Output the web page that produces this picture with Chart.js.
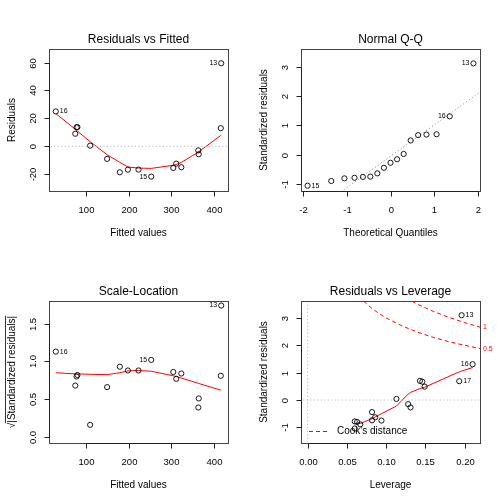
<!DOCTYPE html>
<html>
<head>
<meta charset="utf-8">
<script src="https://cdn.jsdelivr.net/npm/chart.js@4.4.0/dist/chart.umd.min.js"></script>
<style>
  html, body { margin: 0; padding: 0; background: #fff; }
  #wrap { position: relative; width: 504px; height: 504px; }
  .cell { position: absolute; width: 252px; height: 252px; }
</style>
</head>
<body>
<div id="wrap">
  <div class="cell" style="left:0;top:0"><canvas id="c1" width="252" height="252"></canvas></div>
  <div class="cell" style="left:252px;top:0"><canvas id="c2" width="252" height="252"></canvas></div>
  <div class="cell" style="left:0;top:252px"><canvas id="c3" width="252" height="252"></canvas></div>
  <div class="cell" style="left:252px;top:252px"><canvas id="c4" width="252" height="252"></canvas></div>
</div>
<script>
// Observations (same order in every panel)
var fitted    = [28, 74, 77, 79, 109, 149, 179, 198, 223, 253, 305, 312, 324, 364, 365, 418, 417];
var residuals = [25, 9, 13.6, 13.8, 0.5, -9, -18.6, -16.7, -16.7, -21.7, -15.5, -12.4, -15, -2.9, -5.7, 59.5, 13];
var sqrtStdRes = [1.13, 0.68, 0.80, 0.82, 0.16, 0.66, 0.93, 0.88, 0.88, 1.02, 0.86, 0.77, 0.84, 0.39, 0.51, 1.74, 0.81];

// Smoother (red) through sorted fitted values
var smoothX  = [28, 74, 77, 79, 109, 149, 179, 198, 223, 253, 305, 312, 324, 364, 365, 417, 418];
var smooth1Y = [23.5, 12.2, 11.5, 10.9, 3.3, -6, -11.5, -14.8, -15.6, -15.8, -13.6, -13, -11.5, -4.2, -3.9, 7.8, 8];
var smooth3Y = [0.85, 0.835, 0.835, 0.835, 0.83, 0.825, 0.85, 0.875, 0.88, 0.87, 0.81, 0.80, 0.78, 0.71, 0.71, 0.62, 0.62];

// Normal Q-Q
var theoQ  = [-1.89, -1.35, -1.05, -0.82, -0.63, -0.46, -0.30, -0.15, 0, 0.15, 0.30, 0.46, 0.63, 0.82, 1.05, 1.35, 1.89];
var stdRes = [-1.05, -0.89, -0.80, -0.78, -0.75, -0.74, -0.63, -0.44, -0.27, -0.15, 0.03, 0.49, 0.67, 0.69, 0.70, 1.31, 3.11];
var qqLineX = [-2.1, 2.1];
var qqLineY = [-2.30, 2.20];

// Residuals vs Leverage
var leverage = [0.196, 0.210, 0.193, 0.143, 0.146, 0.149, 0.113, 0.128, 0.131, 0.082, 0.086, 0.082, 0.094, 0.060, 0.063, 0.060, 0.067];
var levRes   = [3.10, 1.31, 0.69, 0.70, 0.67, 0.49, 0.04, -0.15, -0.27, -0.44, -0.63, -0.74, -0.75, -0.78, -0.80, -1.04, -0.89];
var smooth4X = [0.060, 0.067, 0.082, 0.094, 0.113, 0.128, 0.131, 0.143, 0.149, 0.193, 0.196, 0.210];
var smooth4Y = [-0.85, -0.86, -0.68, -0.50, -0.22, 0.22, 0.28, 0.42, 0.47, 1.03, 1.06, 1.19];
var cook05X = [0.065, 0.07, 0.08, 0.09, 0.10, 0.12, 0.14, 0.16, 0.18, 0.20, 0.22];
var cook05Y = [3.79, 3.65, 3.39, 3.18, 3.00, 2.71, 2.48, 2.29, 2.13, 2.00, 1.88];
var cook1X  = [0.125, 0.13, 0.14, 0.15, 0.16, 0.18, 0.20, 0.22];
var cook1Y  = [3.74, 3.66, 3.50, 3.37, 3.24, 3.02, 2.83, 2.66];

// Tick labels
var fitTicks = [100, 200, 300, 400];
var resTicks = [-20, 0, 20, 40, 60];
var qqXTicks = [-2, -1, 0, 1, 2];
var qqYTicks = [-1, 0, 1, 2, 3];
var slTicks  = [0, 0.5, 1.0, 1.5];
var slTickLabels = ['0.0', '0.5', '1.0', '1.5'];
var levTicks = [0, 0.05, 0.10, 0.15, 0.20];
var levTickLabels = ['0.00', '0.05', '0.10', '0.15', '0.20'];
var levYTicks = [-1, 0, 1, 2, 3];

var FONT = '"Liberation Sans", Arial, Helvetica, sans-serif';
var RED = '#ff0000';

function zip(xs, ys) {
  return xs.map(function (x, i) { return { x: x, y: ys[i] }; });
}

function points(data) {
  return {
    data: data, pointRadius: 2.6, pointBorderWidth: 0.9,
    pointBorderColor: '#000', pointBackgroundColor: 'rgba(0,0,0,0)', showLine: false
  };
}

function line(data, color, dash, width) {
  return {
    data: data, showLine: true, pointRadius: 0, borderColor: color,
    borderWidth: width || 1, borderDash: dash || [], fill: false
  };
}

// R-style frame, axes, titles and point labels
var rFrame = {
  id: 'rFrame',
  afterDraw: function (chart, args, o) {
    var ctx = chart.ctx, a = chart.chartArea;
    var xs = chart.scales.x, ys = chart.scales.y;
    ctx.save();
    ctx.strokeStyle = '#444';
    ctx.lineWidth = 1;
    ctx.strokeRect(a.left + 0.5, a.top + 0.5, a.right - a.left, a.bottom - a.top);

    ctx.fillStyle = '#000';
    ctx.strokeStyle = '#222';
    ctx.font = '9.5px ' + FONT;
    ctx.textAlign = 'center';
    ctx.textBaseline = 'middle';

    // x axis
    var xp = o.xTicks.map(function (v) { return Math.round(xs.getPixelForValue(v)) + 0.5; });
    var by = a.bottom + 0.5;
    ctx.beginPath();
    ctx.moveTo(xp[0], by); ctx.lineTo(xp[xp.length - 1], by);
    xp.forEach(function (p) { ctx.moveTo(p, by); ctx.lineTo(p, by + 5); });
    ctx.stroke();
    xp.forEach(function (p, i) {
      ctx.fillText(o.xLabels ? o.xLabels[i] : String(o.xTicks[i]), p, a.bottom + 19);
    });

    // y axis
    var yp = o.yTicks.map(function (v) { return Math.round(ys.getPixelForValue(v)) + 0.5; });
    var lx = a.left + 0.5;
    ctx.beginPath();
    ctx.moveTo(lx, yp[0]); ctx.lineTo(lx, yp[yp.length - 1]);
    yp.forEach(function (p) { ctx.moveTo(lx, p); ctx.lineTo(lx - 5, p); });
    ctx.stroke();
    yp.forEach(function (p, i) {
      ctx.save();
      ctx.translate(a.left - 16, p);
      ctx.rotate(-Math.PI / 2);
      ctx.fillText(o.yLabels ? o.yLabels[i] : String(o.yTicks[i]), 0, 0);
      ctx.restore();
    });

    // titles
    var cx = (a.left + a.right) / 2, cy = (a.top + a.bottom) / 2;
    ctx.font = '12px ' + FONT;
    ctx.fillText(o.title, cx, 40);
    ctx.font = '10px ' + FONT;
    ctx.fillText(o.xTitle, cx, 233);
    ctx.save();
    ctx.translate(12, cy);
    ctx.rotate(-Math.PI / 2);
    if (o.sqrtTitle) {
      var w1 = ctx.measureText('\u221A').width;
      var w2 = ctx.measureText(o.yTitle).width;
      var x0 = -(w1 + w2) / 2;
      ctx.textAlign = 'left';
      ctx.fillText('\u221A', x0, 0);
      ctx.fillText(o.yTitle, x0 + w1, 0);
      ctx.beginPath();
      ctx.lineWidth = 0.8;
      ctx.strokeStyle = '#000';
      ctx.moveTo(x0 + w1 - 0.5, -6.5); ctx.lineTo(x0 + w1 + w2, -6.5);
      ctx.stroke();
    } else {
      ctx.fillText(o.yTitle, 0, 0);
    }
    ctx.restore();

    // point labels
    var meta = chart.getDatasetMeta(0);
    ctx.font = '7px ' + FONT;
    (o.ids || []).forEach(function (id) {
      var el = meta.data[id.i];
      if (!el) return;
      ctx.textAlign = id.side === 'l' ? 'right' : 'left';
      ctx.fillText(id.text, el.x + (id.side === 'l' ? -4 : 4), el.y);
    });

    if (o.extra) o.extra(chart, ctx);
    ctx.restore();
  }
};

function makeChart(id, datasets, sx, sy, frame) {
  return new Chart(document.getElementById(id), {
    type: 'scatter',
    data: { datasets: datasets },
    options: {
      responsive: false,
      animation: false,
      events: [],
      layout: { padding: { left: 49, right: 24, top: 49, bottom: 61 } },
      scales: {
        x: { type: 'linear', display: false, min: sx[0], max: sx[1] },
        y: { type: 'linear', display: false, min: sy[0], max: sy[1] }
      },
      plugins: { legend: { display: false }, tooltip: { enabled: false }, rFrame: frame }
    },
    plugins: [rFrame]
  });
}

var DOT = [1, 2.5];

// 1. Residuals vs Fitted
makeChart('c1', [
  points(zip(fitted, residuals)),
  line(zip([0, 450], [0, 0]), '#b0b0b0', DOT),
  line(zip(smoothX, smooth1Y), RED)
], [12, 434], [-32, 69.7], {
  title: 'Residuals vs Fitted', xTitle: 'Fitted values', yTitle: 'Residuals',
  xTicks: fitTicks, yTicks: resTicks,
  ids: [{ i: 0, text: '16', side: 'r' }, { i: 9, text: '15', side: 'l' }, { i: 15, text: '13', side: 'l' }]
});

// 2. Normal Q-Q
makeChart('c2', [
  points(zip(theoQ, stdRes)),
  line(zip(qqLineX, qqLineY), '#808080', DOT)
], [-2.04, 2.04], [-1.23, 3.60], {
  title: 'Normal Q-Q', xTitle: 'Theoretical Quantiles', yTitle: 'Standardized residuals',
  xTicks: qqXTicks, yTicks: qqYTicks,
  ids: [{ i: 0, text: '15', side: 'r' }, { i: 15, text: '16', side: 'l' }, { i: 16, text: '13', side: 'l' }]
});

// 3. Scale-Location
makeChart('c3', [
  points(zip(fitted, sqrtStdRes)),
  line(zip(smoothX, smooth3Y), RED)
], [12, 434], [-0.08, 1.80], {
  title: 'Scale-Location', xTitle: 'Fitted values', yTitle: '|Standardized residuals|', sqrtTitle: true,
  xTicks: fitTicks, yTicks: slTicks, yLabels: slTickLabels,
  ids: [{ i: 0, text: '16', side: 'r' }, { i: 9, text: '15', side: 'l' }, { i: 15, text: '13', side: 'l' }]
});

// 4. Residuals vs Leverage
makeChart('c4', [
  points(zip(leverage, levRes)),
  line(zip([-0.05, 0.3], [0, 0]), '#b0b0b0', DOT),
  line(zip([0, 0], [-5, 5]), '#b0b0b0', DOT),
  line(zip(smooth4X, smooth4Y), RED),
  line(zip(cook05X, cook05Y), RED, [4, 3]),
  line(zip(cook1X, cook1Y), RED, [4, 3])
], [-0.0084, 0.2194], [-1.57, 3.62], {
  title: 'Residuals vs Leverage', xTitle: 'Leverage', yTitle: 'Standardized residuals',
  xTicks: levTicks, xLabels: levTickLabels, yTicks: levYTicks,
  ids: [{ i: 0, text: '13', side: 'r' }, { i: 1, text: '16', side: 'l' }, { i: 2, text: '17', side: 'r' }],
  extra: function (chart, ctx) {
    var a = chart.chartArea, ys = chart.scales.y;
    ctx.fillStyle = RED;
    ctx.font = '7px ' + FONT;
    ctx.textAlign = 'left';
    ctx.fillText('1', a.right + 3, ys.getPixelForValue(cook1Y[cook1Y.length - 1]));
    ctx.fillText('0.5', a.right + 3, ys.getPixelForValue(cook05Y[cook05Y.length - 1]));
    // legend
    var ly = a.bottom - 11.5;
    ctx.strokeStyle = RED;
    ctx.lineWidth = 1;
    ctx.setLineDash([4, 3]);
    ctx.beginPath();
    ctx.moveTo(a.left + 8, ly); ctx.lineTo(a.left + 27, ly);
    ctx.stroke();
    ctx.setLineDash([]);
    ctx.fillStyle = '#000';
    ctx.font = '10px ' + FONT;
    ctx.fillText("Cook's distance", a.left + 36, ly);
  }
});
</script>
</body>
</html>
